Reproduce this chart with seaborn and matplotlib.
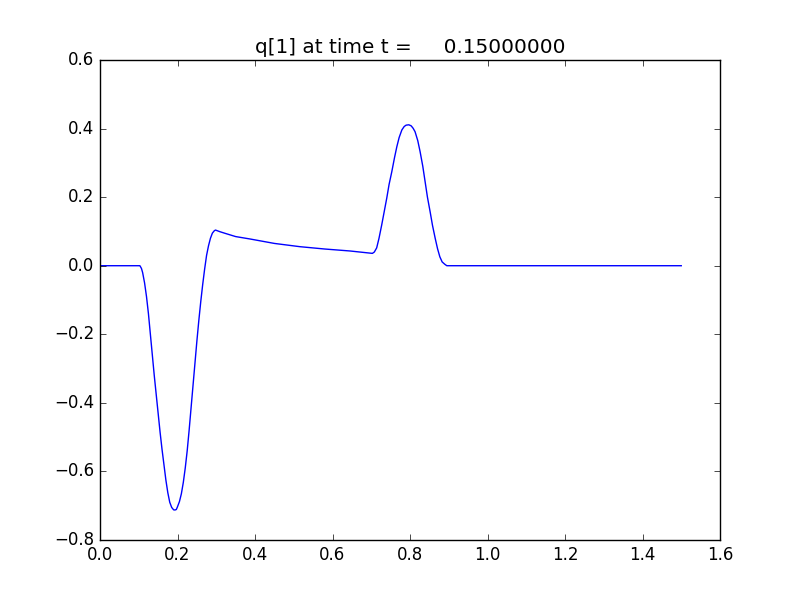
import matplotlib
matplotlib.use("Agg")
import matplotlib.pyplot as plt
import seaborn as sns
import pandas as pd

# values
x_vals = [0.0, 0.05, 0.103, 0.107, 0.11, 0.115, 0.12, 0.125, 0.13, 0.135,
          0.14, 0.145, 0.15, 0.155, 0.16, 0.165, 0.17, 0.175, 0.18, 0.185,
          0.19, 0.1935, 0.197, 0.2, 0.205, 0.21, 0.215, 0.22, 0.225, 0.23,
          0.235, 0.24, 0.245, 0.25, 0.255, 0.26, 0.265, 0.27, 0.275, 0.28,
          0.285, 0.29, 0.295, 0.298, 0.31, 0.3226, 0.35, 0.387, 0.45, 0.516,
          0.58, 0.645, 0.703, 0.708, 0.714, 0.72, 0.727, 0.733, 0.740, 0.746,
          0.753, 0.76, 0.766, 0.772, 0.779, 0.785, 0.79, 0.797, 0.803, 0.808,
          0.813, 0.82, 0.826, 0.833, 0.839, 0.845, 0.852, 0.858, 0.865, 0.871,
          0.877, 0.883, 0.89, 0.895, 1.0, 1.2, 1.5]
q1_vals = [0.0, 0.0, 0.0, -0.008, -0.02, -0.05, -0.09, -0.14, -0.20, -0.26,
           -0.32, -0.375, -0.43, -0.485, -0.535, -0.58, -0.625, -0.662, -0.69, -0.705,
           -0.712, -0.7125, -0.711, -0.703, -0.688, -0.665, -0.632, -0.59, -0.54, -0.48,
           -0.415, -0.35, -0.285, -0.22, -0.16, -0.105, -0.055, -0.01, 0.03, 0.058,
           0.08, 0.095, 0.102, 0.104, 0.099, 0.0945, 0.085, 0.078, 0.065, 0.0555,
           0.0487, 0.043, 0.036, 0.040, 0.052, 0.08, 0.119, 0.155, 0.197, 0.237,
           0.274, 0.315, 0.347, 0.374, 0.396, 0.406, 0.41, 0.411, 0.408, 0.401,
           0.391, 0.365, 0.333, 0.29, 0.245, 0.2, 0.157, 0.118, 0.080, 0.05,
           0.026, 0.011, 0.004, 0.0, 0.0, 0.0, 0.0]

title_text = "q[1] at time t =     0.15000000"
x_ticks = [0.0, 0.2, 0.4, 0.6, 0.8, 1.0, 1.2, 1.4, 1.6]
y_ticks = [-0.8, -0.6, -0.4, -0.2, 0.0, 0.2, 0.4, 0.6]

plt.style.use("classic")
plt.rcParams["figure.facecolor"] = "white"
plt.rcParams["savefig.facecolor"] = "white"
plt.rcParams["font.family"] = ["DejaVu Sans"]

df = pd.DataFrame({"x": x_vals, "q": q1_vals})

fig = plt.figure(figsize=(8, 6), dpi=100)
ax = fig.add_axes([0.125, 0.1, 0.775, 0.8])
sns.lineplot(data=df, x="x", y="q", ax=ax, color="#0000ff", linewidth=1.0,
             sort=False, estimator=None)
ax.set_xlim(0.0, 1.6)
ax.set_ylim(-0.8, 0.6)
ax.set_xticks(x_ticks)
ax.set_yticks(y_ticks)
ax.set_xticklabels([f"{v:.1f}" for v in x_ticks])
ax.set_yticklabels([f"{v:.1f}".replace("-", "\u2212") for v in y_ticks])
ax.set_xlabel("")
ax.set_ylabel("")
ax.set_title(title_text, fontsize=14.4)
fig.savefig("out.png", dpi=100)
